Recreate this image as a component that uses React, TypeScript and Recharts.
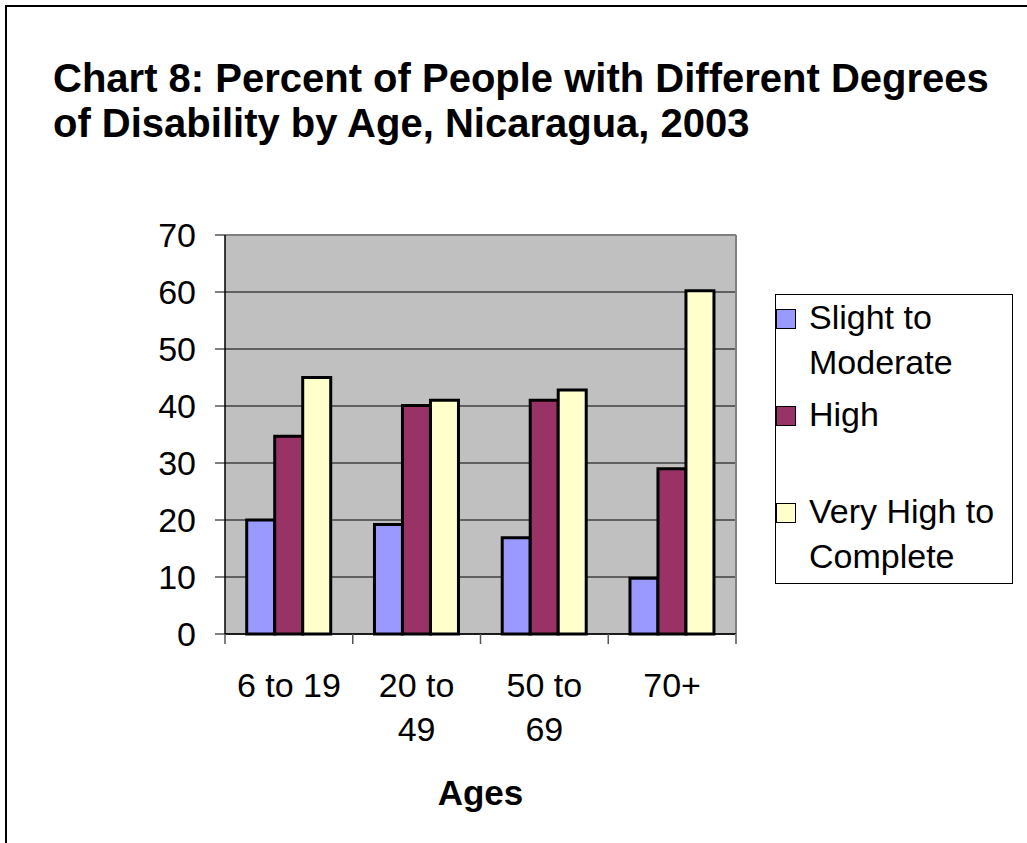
import { Bar, BarChart, CartesianGrid, Legend, ReferenceLine, XAxis, YAxis } from 'recharts';

const FONT = '"Liberation Sans", Arial, sans-serif';

const AGE_GROUPS = ['6 to 19', '20 to\n49', '50 to\n69', '70+'];
const SLIGHT_TO_MODERATE = [20, 19.2, 16.9, 9.8];
const HIGH = [34.7, 40.1, 41, 29];
const VERY_HIGH_TO_COMPLETE = [45, 41, 42.8, 60.2];
const Y_TICKS = [0, 10, 20, 30, 40, 50, 60, 70];

const SERIES = [
  { key: 'slight', name: 'Slight to\nModerate', color: '#9999FF' },
  { key: 'high', name: 'High', color: '#993366' },
  { key: 'veryHigh', name: 'Very High to\nComplete', color: '#FFFFCC' }
];

const chartData = AGE_GROUPS.map((age, i) => ({
  age,
  slight: SLIGHT_TO_MODERATE[i],
  high: HIGH[i],
  veryHigh: VERY_HIGH_TO_COMPLETE[i]
}));

const LABEL_GAP = 63;

// Excel-style category axis: tick marks sit on the group boundaries, labels in the middle
function AgeTick({ x, y, payload }: any) {
  const lines = String(payload.value).split('\n');
  const half = payload.offset ?? 0;
  const axisY = y - LABEL_GAP;
  const isLast = payload.value === AGE_GROUPS[AGE_GROUPS.length - 1];
  return (
    <g>
      <line x1={x - half} x2={x - half} y1={axisY} y2={axisY + 10} stroke="#555" strokeWidth={1.5} />
      {isLast && (
        <line x1={x + half} x2={x + half} y1={axisY} y2={axisY + 10} stroke="#808080" strokeWidth={2} />
      )}
      <text x={x} y={y} textAnchor="middle" fontSize={34} fill="#000" fontFamily={FONT}>
        {lines.map((line, i) => (
          <tspan key={i} x={x} dy={i === 0 ? 0 : 44}>
            {line}
          </tspan>
        ))}
      </text>
    </g>
  );
}

function DegreeLegend({ payload }: any) {
  const order = SERIES.map((s) => s.name);
  const items = [...(payload || [])].sort(
    (a: any, b: any) => order.indexOf(a.value) - order.indexOf(b.value)
  );
  return (
    <div
      style={{
        width: 238,
        height: 290,
        boxSizing: 'border-box',
        border: '1px solid #000',
        background: '#fff',
        fontFamily: FONT,
        fontSize: 34,
        lineHeight: '45px',
        color: '#000'
      }}
    >
      {items.map((entry: any) => (
        <div key={entry.value} style={{ display: 'flex', height: 97 }}>
          <span
            style={{
              width: 20,
              height: 20,
              flexShrink: 0,
              marginTop: 14,
              boxSizing: 'border-box',
              border: '1.5px solid #000',
              background: entry.color
            }}
          />
          <span style={{ marginLeft: 13, whiteSpace: 'pre-line' }}>{entry.value}</span>
        </div>
      ))}
    </div>
  );
}

export default function App() {
  return (
    <div
      style={{
        position: 'absolute',
        left: 0,
        top: 0,
        width: 1027,
        height: 843,
        overflow: 'hidden',
        background: '#fff'
      }}
    >
      <div
        style={{
          position: 'absolute',
          left: 5,
          top: 5,
          width: 1100,
          height: 900,
          border: '2px solid #000'
        }}
      />
      <div
        style={{
          position: 'absolute',
          left: 53,
          top: 56,
          fontFamily: FONT,
          fontWeight: 'bold',
          fontSize: 40,
          lineHeight: '45px',
          color: '#000',
          whiteSpace: 'nowrap'
        }}
      >
        Chart 8: Percent of People with Different Degrees
        <br />
        of Disability by Age, Nicaragua, 2003
      </div>
      <div style={{ position: 'absolute', left: 0, top: 0 }}>
        <BarChart
          width={1027}
          height={843}
          data={chartData}
          margin={{ top: 235, right: 291, bottom: 33, left: 145 }}
          barCategoryGap="17%"
          barGap={0}
        >
          <CartesianGrid vertical={false} stroke="#000" fill="#C0C0C0" />
          <CartesianGrid
            horizontal={false}
            stroke="#808080"
            strokeWidth={2}
            verticalCoordinatesGenerator={({ offset }: any) => [offset.left + offset.width]}
          />
          <XAxis
            dataKey="age"
            interval={0}
            tickLine={false}
            tickSize={0}
            tickMargin={LABEL_GAP}
            tick={<AgeTick />}
            axisLine={{ stroke: '#000', strokeWidth: 1.5 }}
            height={176}
            label={{
              value: 'Ages',
              position: 'insideBottom',
              offset: 5,
              fontSize: 35,
              fontWeight: 'bold',
              fill: '#000',
              fontFamily: FONT
            }}
          />
          <YAxis
            domain={[0, 70]}
            ticks={Y_TICKS}
            interval={0}
            width={80}
            tickSize={10}
            tickMargin={19}
            tick={{ fontSize: 34, fill: '#000', fontFamily: FONT }}
            tickLine={{ stroke: '#000' }}
            axisLine={{ stroke: '#000', strokeWidth: 1.5 }}
          />
          <ReferenceLine y={70} stroke="#808080" strokeWidth={2} />
          <Legend
            layout="horizontal"
            verticalAlign="middle"
            align="center"
            content={<DegreeLegend />}
            wrapperStyle={{ left: 775, top: 294, width: 238, height: 290 }}
          />
          {SERIES.map((s) => (
            <Bar
              key={s.key}
              dataKey={s.key}
              name={s.name}
              fill={s.color}
              stroke="#000"
              strokeWidth={3}
              isAnimationActive={false}
            />
          ))}
        </BarChart>
      </div>
    </div>
  );
}
